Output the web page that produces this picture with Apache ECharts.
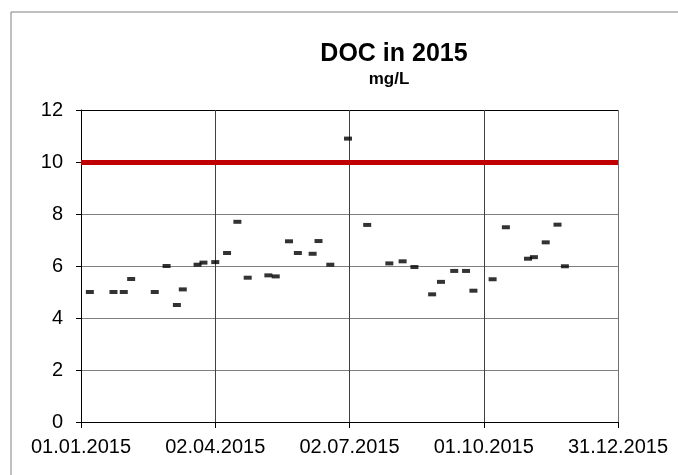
<!DOCTYPE html>
<html>
<head>
<meta charset="utf-8">
<script src="https://cdn.jsdelivr.net/npm/echarts@6/dist/echarts.min.js"></script>
<style>html,body{margin:0;padding:0;background:#fff}#c{width:678px;height:475px}</style>
</head>
<body>
<div id="c"></div>
<script>
// Sampling dates (dd.mm.yyyy) and DOC values (mg/L)
var sampleDates = ["07.01.2015","23.01.2015","30.01.2015","04.02.2015","20.02.2015","28.02.2015","07.03.2015","11.03.2015","21.03.2015","25.03.2015",
  "02.04.2015","10.04.2015","17.04.2015","24.04.2015","08.05.2015","13.05.2015","22.05.2015","28.05.2015","07.06.2015","11.06.2015",
  "19.06.2015","01.07.2015","14.07.2015","29.07.2015","07.08.2015","15.08.2015","27.08.2015","02.09.2015","11.09.2015","19.09.2015",
  "24.09.2015","07.10.2015","16.10.2015","31.10.2015","04.11.2015","12.11.2015","20.11.2015","25.11.2015"];
var docValues = [5.0,5.0,5.0,5.5,5.0,6.0,4.5,5.1,6.05,6.13,
  6.15,6.5,7.7,5.55,5.64,5.6,6.95,6.5,6.47,6.96,
  6.05,10.9,7.58,6.1,6.18,5.96,4.91,5.39,5.81,5.81,
  5.05,5.49,7.49,6.28,6.34,6.91,7.59,5.99];
var limitValue = 10;
var xTickLabels = ["01.01.2015","02.04.2015","02.07.2015","01.10.2015","31.12.2015"];
var yTicks = [0,2,4,6,8,10,12];

var DAY = 86400000, T0 = Date.UTC(2015,0,1);
function dayIndex(s){var p=s.split('.');return Math.round((Date.UTC(+p[2],+p[1]-1,+p[0])-T0)/DAY);}
function fmt(d){var t=new Date(T0+d*DAY);var dd=('0'+t.getUTCDate()).slice(-2),mm=('0'+(t.getUTCMonth()+1)).slice(-2);return dd+'.'+mm+'.'+t.getUTCFullYear();}
var tickDays = xTickLabels.map(dayIndex);
var data = sampleDates.map(function(s,i){return [dayIndex(s), docValues[i]];});

var FONT = "'Liberation Sans', Arial, sans-serif";
var chart = echarts.init(document.getElementById('c'), null, {renderer:'canvas'});
chart.setOption({
  animation:false,
  backgroundColor:'#fff',
  graphic:[
    {type:'rect', shape:{x:11,y:12,width:720,height:520}, style:{fill:'none',stroke:'#808080',lineWidth:1}, z:-1},
    {type:'text', x:394, y:42, style:{text:'DOC in 2015', font:"bold 25px "+FONT, fill:'#000', textAlign:'center'}},
    {type:'text', x:389, y:71, style:{text:'mg/L', font:"bold 17px "+FONT, fill:'#000', textAlign:'center'}}
  ],
  grid:{left:81, right:60, top:110, bottom:53, containLabel:false},
  xAxis:{
    type:'value', min:tickDays[0], max:tickDays[tickDays.length-1], interval:tickDays[1]-tickDays[0],
    axisLine:{show:true, lineStyle:{color:'#000', width:1}},
    axisTick:{show:true, length:6, lineStyle:{color:'#000'}},
    axisLabel:{margin:15, fontFamily:FONT, fontSize:20, color:'#000', formatter:function(v){return fmt(v);}},
    splitLine:{show:true, lineStyle:{color:['#000','#404040','#404040','#404040','#707070'], width:1}}
  },
  yAxis:{
    type:'value', min:yTicks[0], max:yTicks[yTicks.length-1], interval:yTicks[1]-yTicks[0],
    axisLine:{show:true, lineStyle:{color:'#000', width:1}},
    axisTick:{show:true, length:5, lineStyle:{color:'#000'}},
    axisLabel:{margin:18, fontFamily:FONT, fontSize:20, color:'#000'},
    splitLine:{show:true, lineStyle:{color:['#000','#808080','#808080','#808080','#808080','#808080','#000'], width:1}}
  },
  series:[{
    type:'scatter', data:data, symbol:'rect', symbolSize:[8,4],
    itemStyle:{color:'#000'}, z:3,
    markLine:{silent:true, symbol:'none', label:{show:false},
      lineStyle:{color:'#C00000', width:5, type:'solid'},
      data:[{yAxis:limitValue}]}
  }]
});
</script>
</body>
</html>
